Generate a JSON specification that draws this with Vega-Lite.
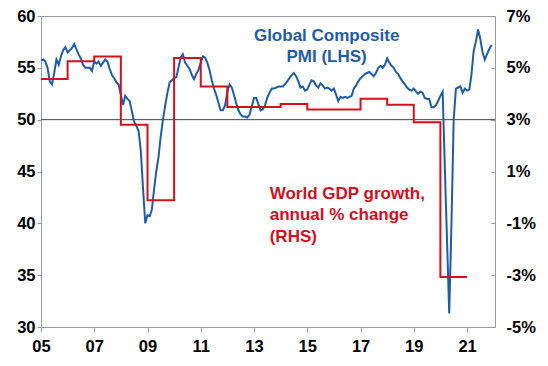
{
  "$schema": "https://vega.github.io/schema/vega-lite/v6.json",
  "width": 454,
  "height": 311,
  "autosize": {"type": "none"},
  "padding": {"left": 41, "top": 16, "right": 53, "bottom": 39},
  "background": "white",
  "config": {
    "view": {"stroke": "#9a9a9a", "strokeWidth": 1},
    "font": "Liberation Sans",
    "axis": {
      "labelFont": "Liberation Sans",
      "labelFontSize": 16.5,
      "labelFontWeight": "bold",
      "labelColor": "#000000",
      "domainColor": "#9a9a9a",
      "tickColor": "#9a9a9a",
      "grid": false,
      "title": null,
      "labelOverlap": false,
      "labelFlush": false
    }
  },
  "datasets": {
    "pmi": [
      {"d":"2005-01","v":55.7},{"d":"2005-02","v":55.8},{"d":"2005-03","v":55.6},{"d":"2005-04","v":55.0},{"d":"2005-05","v":53.7},{"d":"2005-06","v":53.4},{"d":"2005-07","v":54.5},{"d":"2005-08","v":55.8},{"d":"2005-09","v":55.3},{"d":"2005-10","v":56.1},{"d":"2005-11","v":56.7},{"d":"2005-12","v":57.0},
      {"d":"2006-01","v":56.5},{"d":"2006-02","v":56.7},{"d":"2006-03","v":56.9},{"d":"2006-04","v":57.3},{"d":"2006-05","v":56.8},{"d":"2006-06","v":56.3},{"d":"2006-07","v":55.9},{"d":"2006-08","v":55.3},{"d":"2006-09","v":55.0},{"d":"2006-10","v":55.0},{"d":"2006-11","v":55.0},{"d":"2006-12","v":54.7},
      {"d":"2007-01","v":55.6},{"d":"2007-02","v":55.4},{"d":"2007-03","v":55.6},{"d":"2007-04","v":55.2},{"d":"2007-05","v":55.5},{"d":"2007-06","v":55.8},{"d":"2007-07","v":55.6},{"d":"2007-08","v":54.9},{"d":"2007-09","v":54.3},{"d":"2007-10","v":54.0},{"d":"2007-11","v":53.6},{"d":"2007-12","v":53.4},
      {"d":"2008-01","v":52.4},{"d":"2008-02","v":51.4},{"d":"2008-03","v":52.3},{"d":"2008-04","v":52.0},{"d":"2008-05","v":51.8},{"d":"2008-06","v":50.8},{"d":"2008-07","v":49.8},{"d":"2008-08","v":49.4},{"d":"2008-09","v":48.9},{"d":"2008-10","v":47.0},{"d":"2008-11","v":43.3},{"d":"2008-12","v":40.0},
      {"d":"2009-01","v":40.8},{"d":"2009-02","v":40.7},{"d":"2009-03","v":41.3},{"d":"2009-04","v":43.3},{"d":"2009-05","v":45.0},{"d":"2009-06","v":46.4},{"d":"2009-07","v":48.4},{"d":"2009-08","v":50.0},{"d":"2009-09","v":51.4},{"d":"2009-10","v":52.6},{"d":"2009-11","v":53.6},{"d":"2009-12","v":53.8},
      {"d":"2010-01","v":54.0},{"d":"2010-02","v":54.1},{"d":"2010-03","v":55.0},{"d":"2010-04","v":56.0},{"d":"2010-05","v":56.3},{"d":"2010-06","v":55.5},{"d":"2010-07","v":55.2},{"d":"2010-08","v":54.9},{"d":"2010-09","v":54.3},{"d":"2010-10","v":53.9},{"d":"2010-11","v":54.4},{"d":"2010-12","v":54.8},
      {"d":"2011-01","v":55.5},{"d":"2011-02","v":56.1},{"d":"2011-03","v":56.0},{"d":"2011-04","v":55.5},{"d":"2011-05","v":54.8},{"d":"2011-06","v":53.8},{"d":"2011-07","v":53.0},{"d":"2011-08","v":52.4},{"d":"2011-09","v":51.6},{"d":"2011-10","v":50.9},{"d":"2011-11","v":50.9},{"d":"2011-12","v":51.4},
      {"d":"2012-01","v":52.7},{"d":"2012-02","v":53.4},{"d":"2012-03","v":53.1},{"d":"2012-04","v":52.4},{"d":"2012-05","v":51.6},{"d":"2012-06","v":50.9},{"d":"2012-07","v":50.5},{"d":"2012-08","v":50.3},{"d":"2012-09","v":50.3},{"d":"2012-10","v":50.2},{"d":"2012-11","v":50.5},{"d":"2012-12","v":51.3},
      {"d":"2013-01","v":52.1},{"d":"2013-02","v":52.1},{"d":"2013-03","v":51.5},{"d":"2013-04","v":50.9},{"d":"2013-05","v":51.0},{"d":"2013-06","v":51.4},{"d":"2013-07","v":52.1},{"d":"2013-08","v":52.6},{"d":"2013-09","v":53.0},{"d":"2013-10","v":53.0},{"d":"2013-11","v":53.1},{"d":"2013-12","v":53.2},
      {"d":"2014-01","v":53.2},{"d":"2014-02","v":53.2},{"d":"2014-03","v":53.4},{"d":"2014-04","v":53.7},{"d":"2014-05","v":54.0},{"d":"2014-06","v":54.3},{"d":"2014-07","v":54.5},{"d":"2014-08","v":54.2},{"d":"2014-09","v":53.7},{"d":"2014-10","v":53.1},{"d":"2014-11","v":53.2},{"d":"2014-12","v":52.8},
      {"d":"2015-01","v":52.9},{"d":"2015-02","v":53.4},{"d":"2015-03","v":53.8},{"d":"2015-04","v":53.7},{"d":"2015-05","v":53.3},{"d":"2015-06","v":53.1},{"d":"2015-07","v":53.5},{"d":"2015-08","v":53.3},{"d":"2015-09","v":53.0},{"d":"2015-10","v":53.1},{"d":"2015-11","v":53.0},{"d":"2015-12","v":52.8},
      {"d":"2016-01","v":53.0},{"d":"2016-02","v":52.4},{"d":"2016-03","v":51.8},{"d":"2016-04","v":52.2},{"d":"2016-05","v":52.1},{"d":"2016-06","v":52.2},{"d":"2016-07","v":52.1},{"d":"2016-08","v":52.2},{"d":"2016-09","v":52.3},{"d":"2016-10","v":53.0},{"d":"2016-11","v":53.3},{"d":"2016-12","v":53.7},
      {"d":"2017-01","v":54.0},{"d":"2017-02","v":54.2},{"d":"2017-03","v":54.4},{"d":"2017-04","v":54.5},{"d":"2017-05","v":54.6},{"d":"2017-06","v":54.4},{"d":"2017-07","v":54.2},{"d":"2017-08","v":54.5},{"d":"2017-09","v":55.0},{"d":"2017-10","v":55.2},{"d":"2017-11","v":55.0},{"d":"2017-12","v":55.3},
      {"d":"2018-01","v":55.9},{"d":"2018-02","v":55.5},{"d":"2018-03","v":55.2},{"d":"2018-04","v":55.0},{"d":"2018-05","v":54.6},{"d":"2018-06","v":54.4},{"d":"2018-07","v":54.0},{"d":"2018-08","v":53.7},{"d":"2018-09","v":53.4},{"d":"2018-10","v":53.1},{"d":"2018-11","v":52.9},{"d":"2018-12","v":52.8},
      {"d":"2019-01","v":53.0},{"d":"2019-02","v":52.7},{"d":"2019-03","v":52.5},{"d":"2019-04","v":52.7},{"d":"2019-05","v":52.6},{"d":"2019-06","v":52.1},{"d":"2019-07","v":52.0},{"d":"2019-08","v":52.0},{"d":"2019-09","v":51.2},{"d":"2019-10","v":51.2},{"d":"2019-11","v":51.4},{"d":"2019-12","v":51.8},
      {"d":"2020-01","v":52.3},{"d":"2020-02","v":52.7},{"d":"2020-03","v":45.6},{"d":"2020-04","v":38.4},{"d":"2020-05","v":31.3},{"d":"2020-06","v":40.0},{"d":"2020-07","v":50.0},{"d":"2020-08","v":53.0},{"d":"2020-09","v":53.1},{"d":"2020-10","v":53.2},{"d":"2020-11","v":52.6},{"d":"2020-12","v":53.0},
      {"d":"2021-01","v":52.8},{"d":"2021-02","v":52.9},{"d":"2021-03","v":54.3},{"d":"2021-04","v":56.6},{"d":"2021-05","v":57.5},{"d":"2021-06","v":58.7},{"d":"2021-07","v":57.8},{"d":"2021-08","v":56.5},{"d":"2021-09","v":55.8},{"d":"2021-10","v":56.3},{"d":"2021-11","v":56.8},{"d":"2021-12","v":57.2}
    ],
    "gdp": [
      {"d":"2005-01-01","g":4.57},{"d":"2006-01-01","g":5.25},{"d":"2007-01-01","g":5.44},{"d":"2008-01-01","g":2.8},{"d":"2009-01-01","g":-0.11},{"d":"2010-01-01","g":5.38},{"d":"2011-01-01","g":4.28},{"d":"2012-01-01","g":3.49},{"d":"2013-01-01","g":3.49},{"d":"2014-01-01","g":3.6},{"d":"2015-01-01","g":3.39},{"d":"2016-01-01","g":3.39},{"d":"2017-01-01","g":3.81},{"d":"2018-01-01","g":3.58},{"d":"2019-01-01","g":2.9},{"d":"2020-01-01","g":-3.07},{"d":"2021-01-01","g":-3.07}
    ]
  },
  "layer": [
    {
      "layer": [
        {
          "data": {"values": [{}]},
          "mark": {"type": "rule", "color": "#404040", "strokeWidth": 1},
          "encoding": {
            "y": {"datum": 50, "type": "quantitative", "scale": {"domain": [30, 60], "nice": false, "zero": false}}
          }
        },
        {
          "data": {"name": "pmi"},
          "mark": {"type": "line", "color": "#1f5ca8", "strokeWidth": 2},
          "encoding": {
            "x": {
              "field": "d", "type": "temporal",
              "scale": {"type": "utc", "domain": ["2005-01-01", "2022-01-19"], "nice": false},
              "axis": {
                "values": [{"year": 2005, "utc": true}, {"year": 2007, "utc": true}, {"year": 2009, "utc": true}, {"year": 2011, "utc": true}, {"year": 2013, "utc": true}, {"year": 2015, "utc": true}, {"year": 2017, "utc": true}, {"year": 2019, "utc": true}, {"year": 2021, "utc": true}],
                "format": "%y",
                "tickSize": 5,
                "labelPadding": 6
              }
            },
            "y": {
              "field": "v", "type": "quantitative",
              "scale": {"domain": [30, 60], "nice": false, "zero": false},
              "axis": {"orient": "left", "values": [30, 35, 40, 45, 50, 55, 60], "tickSize": 4, "labelPadding": 2}
            }
          }
        },
        {
          "data": {"values": [{}]},
          "mark": {"type": "text", "text": ["Global Composite", "PMI (LHS)"], "color": "#1f5ca8", "font": "Liberation Sans", "fontSize": 17, "fontWeight": "bold", "align": "center", "baseline": "alphabetic", "lineHeight": 21},
          "encoding": {
            "x": {"datum": {"year": 2015, "month": 9, "date": 24, "utc": true}, "type": "temporal"},
            "y": {"datum": 57.62, "type": "quantitative"}
          }
        },
        {
          "data": {"values": [{}]},
          "mark": {"type": "text", "text": ["World GDP growth,", "annual % change", "(RHS)"], "color": "#d2101e", "font": "Liberation Sans", "fontSize": 17, "fontWeight": "bold", "align": "left", "baseline": "alphabetic", "lineHeight": 21.5},
          "encoding": {
            "x": {"datum": {"year": 2013, "month": 8, "date": 4, "utc": true}, "type": "temporal"},
            "y": {"datum": 42.35, "type": "quantitative"}
          }
        }
      ]
    },
    {
      "data": {"name": "gdp"},
      "mark": {"type": "line", "color": "#d2101e", "strokeWidth": 2, "interpolate": "step-after"},
      "encoding": {
        "x": {"field": "d", "type": "temporal"},
        "y": {
          "field": "g", "type": "quantitative",
          "scale": {"domain": [-5, 7], "nice": false, "zero": false},
          "axis": {"orient": "right", "values": [-5, -3, -1, 1, 3, 5, 7], "labelExpr": "datum.value + '%'", "tickSize": -4, "labelPadding": 15}
        }
      }
    }
  ],
  "resolve": {"scale": {"y": "independent"}}
}
